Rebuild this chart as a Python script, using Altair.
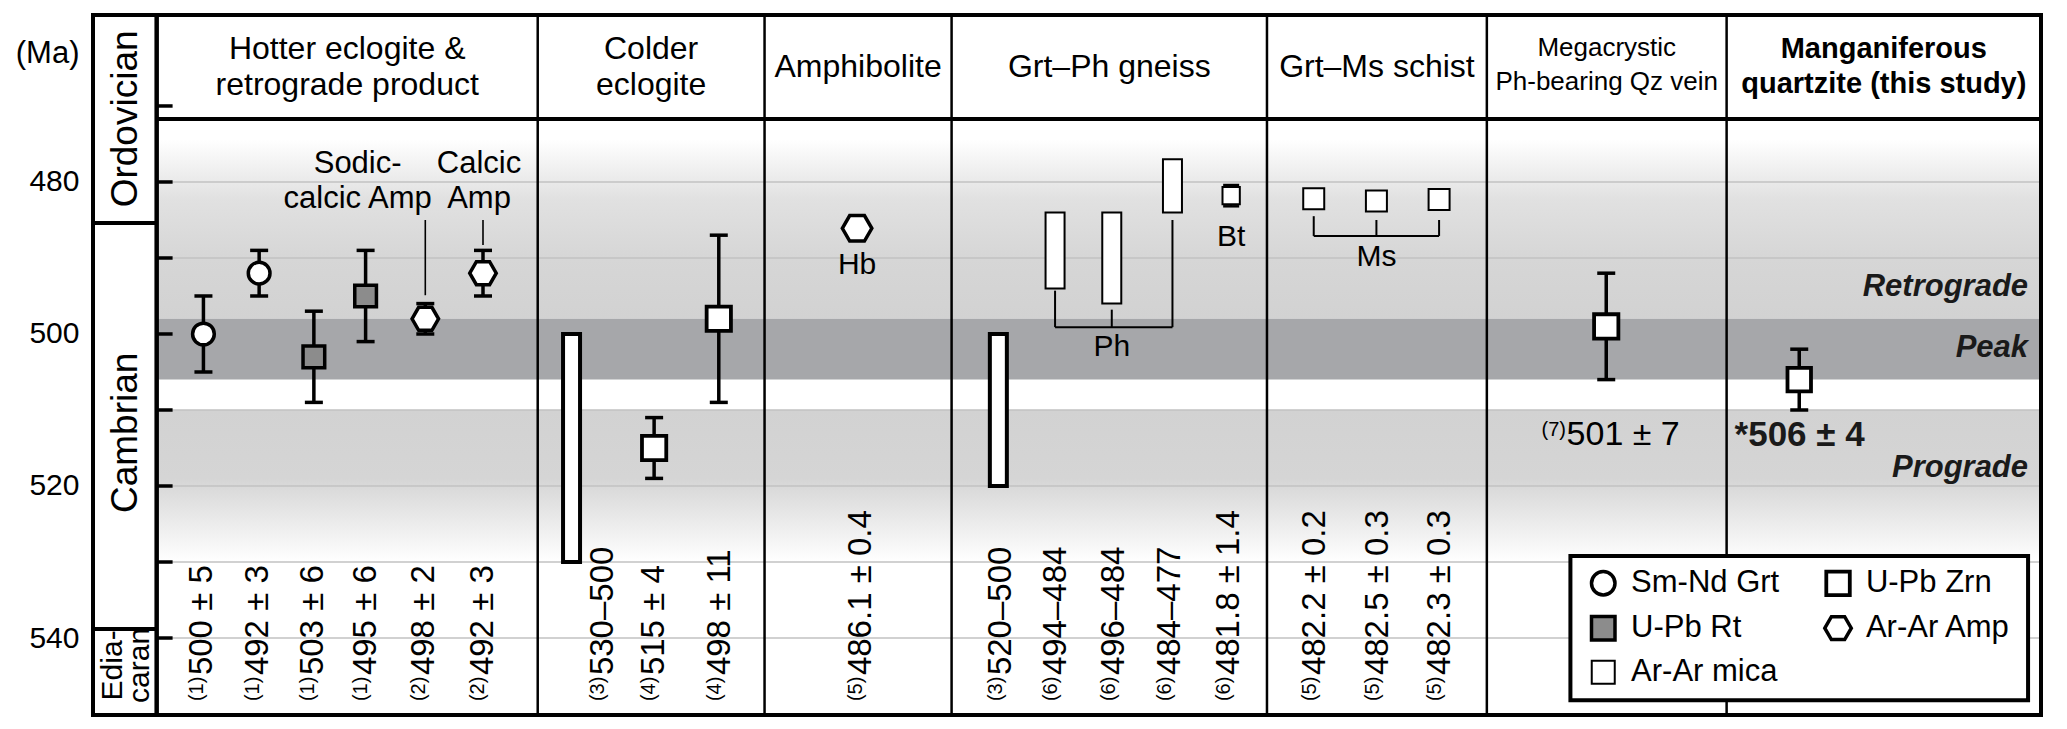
import altair as alt
import pandas as pd

FONT = "Liberation Sans"

# ------------------------------------------------------------------ data
COLUMN_TITLES = [
    "Hotter eclogite &\nretrograde product",
    "Colder\neclogite",
    "Amphibolite",
    "Grt–Ph gneiss",
    "Grt–Ms schist",
    "Megacrystic\nPh-bearing Qz vein",
    "Manganiferous\nquartzite (this study)",
]
PERIOD_NAMES = ["Ordovician", "Cambrian", "Edia-\ncaran"]
PERIOD_BOUNDARIES = [485.4, 538.8]
Y_TICKS = [470, 480, 490, 500, 510, 520, 530, 540]
Y_LABELS = [480, 500, 520, 540]
GRID_AGES = [480, 490, 510, 520, 530, 540]

BAND_NAMES = ["Retrograde", "Peak", "Prograde"]
BAND_OLD = [498, 506, 530]
BAND_YOUNG = [None, 498, 510]  # retrograde band runs up to the top of the panel

SAMPLE_METHOD = [
    "Sm-Nd Grt", "Sm-Nd Grt", "U-Pb Rt", "U-Pb Rt", "Ar-Ar Amp", "Ar-Ar Amp",
    "U-Pb Zrn range", "U-Pb Zrn", "U-Pb Zrn",
    "Ar-Ar Amp",
    "U-Pb Zrn range", "Ar-Ar mica range", "Ar-Ar mica range", "Ar-Ar mica range", "Ar-Ar mica",
    "Ar-Ar mica", "Ar-Ar mica", "Ar-Ar mica",
    "U-Pb Zrn",
    "U-Pb Zrn",
]
SAMPLE_AGE = [500, 492, 503, 495, 498, 492, None, 515, 498, 486.1,
              None, None, None, None, 481.8, 482.2, 482.5, 482.3, 499, 506]
SAMPLE_ERR = [5, 3, 6, 6, 2, 3, None, 4, 11, 0.4,
              None, None, None, None, 1.4, 0.2, 0.3, 0.3, 7, 4]
RANGE_OLD = [None] * 6 + [530, None, None, None, 520, 494, 496, 484] + [None] * 6
RANGE_YOUNG = [None] * 6 + [500, None, None, None, 500, 484, 484, 477] + [None] * 6
SAMPLE_REF = ["(1)", "(1)", "(1)", "(1)", "(2)", "(2)", "(3)", "(4)", "(4)", "(5)",
              "(3)", "(6)", "(6)", "(6)", "(6)", "(5)", "(5)", "(5)", "(7)", "*"]
SAMPLE_TEXT = ["500 ± 5", "492 ± 3", "503 ± 6", "495 ± 6", "498 ± 2", "492 ± 3",
               "530–500", "515 ± 4", "498 ± 11", "486.1 ± 0.4",
               "520–500", "494–484", "496–484", "484–477", "481.8 ± 1.4",
               "482.2 ± 0.2", "482.5 ± 0.3", "482.3 ± 0.3", "501 ± 7", "506 ± 4"]

NOTE_TEXT = ["Hb", "Bt", "Ph", "Ms", "Sodic-\ncalcic Amp", "Calcic\nAmp"]
LEGEND_METHODS = ["Sm-Nd Grt", "U-Pb Rt", "Ar-Ar mica", "U-Pb Zrn", "Ar-Ar Amp"]

# ------------------------------------------------------------------ layout (pixels / plot units)
W, H = 1958, 700
AGE_TOP, AGE_BOTTOM = 458.03, 550.13
AGE_HEADER = 471.7
COL_EDGES = [64, 447, 675, 863, 1180, 1401, 1642, 1958]
COL_CENTERS = [(a + b) / 2 for a, b in zip(COL_EDGES[:-1], COL_EDGES[1:])]
HEADER_MID = (AGE_TOP + AGE_HEADER) / 2
TICK_LEN = 16

SLOT_X = [111, 167, 222, 274, 334, 392, 481, 564, 629, 768,
          910, 967, 1024, 1085, 1144, 1227, 1290, 1353, 1521, 1715]
LABEL_X = [110, 166, 221, 274, 333, 392, 513, 564, 630, 772,
           913, 968, 1026, 1083, 1142, 1228, 1292, 1354, 1456, 1650]
VALUE_BASE_AGE = 548.3
HLABEL_AGE = 513.3

NOTE_X = [768, 1144, 1024, 1290, 266, 388]
NOTE_AGE = [490.9, 487.2, 501.7, 489.9, 479.9, 479.9]

SEG_X = [967, 1024, 1085, 967, 1227, 1290, 1353, 1227, 334, 392]
SEG_X2 = [967, 1024, 1085, 1085, 1227, 1290, 1353, 1353, 334, 392]
SEG_Y = [494.3, 496.8, 485.0, 499.1, 484.5, 485.0, 485.0, 487.1, 485.0, 485.0]
SEG_Y2 = [499.1, 499.1, 499.1, 499.1, 487.1, 487.1, 487.1, 487.1, 494.9, 488.3]
SEG_W = [2, 2, 2, 2, 2, 2, 2, 2, 1.6, 1.6]

BAND_LABEL_AGE = [493.8, 501.8, 517.6]
BAND_LABEL_X = 1945

PERIOD_LABEL_X = [33, 33, 34]
PERIOD_LABEL_AGE = [471.7, 513.0, 543.6]
PERIOD_FS = [37, 37, 30]

LEG_BOX = dict(x0=1485, x1=1945, y0=529.2, y1=548.2)
LEG_X = [1518, 1518, 1518, 1754, 1754]
LEG_AGE = [532.8, 538.7, 544.5, 532.8, 538.7]
LEG_TEXT_DX = 28
LEG_SIZE = [552, 552, 529, 552, 702]

HEX = "M-1,0L-0.5,-0.866L0.5,-0.866L1,0L0.5,0.866L-0.5,0.866Z"
STYLE = {
    "Sm-Nd Grt": dict(shape="circle", fill="white", sw=3.5, size=471),
    "U-Pb Rt": dict(shape="square", fill="#8c8c8c", sw=3.5, size=470),
    "U-Pb Zrn": dict(shape="square", fill="white", sw=3.8, size=590),
    "Ar-Ar Amp": dict(shape=HEX, fill="white", sw=3.5, size=702),
    "Ar-Ar mica": dict(shape="square", fill="white", sw=2, size=441),
}
SIZE_OVERRIDE = {9: 870, 14: 300, 19: 552}

# ------------------------------------------------------------------ helpers
XS = alt.Scale(domain=[0, W], nice=False, zero=False)
YS = alt.Scale(domain=[AGE_TOP, AGE_BOTTOM], reverse=True, nice=False, zero=False)

YAXIS = alt.Axis(
    values=Y_LABELS, title="(Ma)", titleAngle=0, titleAlign="right", titleBaseline="middle",
    titleX=-9, titleY=38, titleFontSize=31, titleFontWeight="normal", titleColor="black",
    titleFont=FONT, labelFont=FONT, labelFontSize=30, labelColor="black", labelPadding=9,
    ticks=False, tickSize=0, domain=False, grid=False,
)


def X(f):
    return alt.X(f"{f}:Q", scale=XS, axis=None)


def Y(f):
    return alt.Y(f"{f}:Q", scale=YS, axis=YAXIS)


def X2(f):
    return alt.X2(f"{f}:Q")


def Y2(f):
    return alt.Y2(f"{f}:Q")


layers = []

# ------------------------------------------------------------------ background bands
bands = pd.DataFrame({
    "name": BAND_NAMES,
    "old": BAND_OLD,
    "young": [AGE_HEADER if v is None else v for v in BAND_YOUNG],
    "x0": COL_EDGES[0],
    "x1": COL_EDGES[-1],
})
retro_grad = alt.Gradient(
    gradient="linear", x1=0, y1=0, x2=0, y2=1,
    stops=[alt.GradientStop(offset=0, color="#ffffff"),
           alt.GradientStop(offset=0.1, color="#ffffff"),
           alt.GradientStop(offset=0.4, color="#e1e1e1"),
           alt.GradientStop(offset=0.7, color="#d6d6d6"),
           alt.GradientStop(offset=1, color="#d2d2d2")])
pro_grad = alt.Gradient(
    gradient="linear", x1=0, y1=0, x2=0, y2=1,
    stops=[alt.GradientStop(offset=0, color="#d2d2d2"),
           alt.GradientStop(offset=0.45, color="#d5d5d5"),
           alt.GradientStop(offset=1, color="#ffffff")])

layers.append(alt.Chart(bands[bands.name == "Retrograde"]).mark_rect(fill=retro_grad).encode(
    x=X("x0"), x2=X2("x1"), y=Y("young"), y2=Y2("old")))
layers.append(alt.Chart(bands[bands.name == "Peak"]).mark_rect(fill="#a6a7aa").encode(
    x=X("x0"), x2=X2("x1"), y=Y("young"), y2=Y2("old")))
layers.append(alt.Chart(bands[bands.name == "Prograde"]).mark_rect(fill=pro_grad).encode(
    x=X("x0"), x2=X2("x1"), y=Y("young"), y2=Y2("old")))

# gridlines
grid = pd.DataFrame({"age": GRID_AGES, "x0": COL_EDGES[0], "x1": COL_EDGES[-1]})
layers.append(alt.Chart(grid).mark_rule(color="#c2c2c2", strokeWidth=1.5).encode(
    x=X("x0"), x2=X2("x1"), y=Y("age")))

# brackets and leader lines
segs = pd.DataFrame({"x": SEG_X, "x2": SEG_X2, "y": SEG_Y, "y2": SEG_Y2, "w": SEG_W})
layers.append(alt.Chart(segs).mark_rule(color="black").encode(
    x=X("x"), x2=X2("x2"), y=Y("y"), y2=Y2("y2"),
    strokeWidth=alt.StrokeWidth("w:Q", scale=None)))

# column separators, header line, period column
seps = pd.DataFrame({"x": COL_EDGES[1:-1], "top": AGE_TOP, "bottom": AGE_BOTTOM})
layers.append(alt.Chart(seps).mark_rule(color="black", strokeWidth=2.5).encode(
    x=X("x"), y=Y("top"), y2=Y2("bottom")))
pcol = pd.DataFrame({"x": [COL_EDGES[0]], "top": AGE_TOP, "bottom": AGE_BOTTOM})
layers.append(alt.Chart(pcol).mark_rule(color="black", strokeWidth=4.5).encode(
    x=X("x"), y=Y("top"), y2=Y2("bottom")))
hline = pd.DataFrame({"age": [AGE_HEADER], "x0": COL_EDGES[0], "x1": COL_EDGES[-1]})
layers.append(alt.Chart(hline).mark_rule(color="black", strokeWidth=4).encode(
    x=X("x0"), x2=X2("x1"), y=Y("age")))
pb = pd.DataFrame({"age": PERIOD_BOUNDARIES, "x0": 0, "x1": COL_EDGES[0]})
layers.append(alt.Chart(pb).mark_rule(color="black", strokeWidth=4).encode(
    x=X("x0"), x2=X2("x1"), y=Y("age")))
ticks = pd.DataFrame({"age": Y_TICKS, "x0": COL_EDGES[0], "x1": COL_EDGES[0] + TICK_LEN})
layers.append(alt.Chart(ticks).mark_rule(color="black", strokeWidth=3.5).encode(
    x=X("x0"), x2=X2("x1"), y=Y("age")))

# ------------------------------------------------------------------ samples
df = pd.DataFrame({
    "method": SAMPLE_METHOD, "age": SAMPLE_AGE, "err": SAMPLE_ERR,
    "old": RANGE_OLD, "young": RANGE_YOUNG, "ref": SAMPLE_REF, "text": SAMPLE_TEXT,
    "x": SLOT_X, "lx": LABEL_X,
})
df["lo"] = df["age"] - df["err"]
df["hi"] = df["age"] + df["err"]
df["sz"] = [SIZE_OVERRIDE.get(i, STYLE.get(m, {"size": 0})["size"]) for i, m in enumerate(df.method)]
df["base"] = VALUE_BASE_AGE
df["hy"] = HLABEL_AGE

# error bars
eb = df[(df.err >= 1) & (df.method != "Ar-Ar mica")]
layers.append(alt.Chart(eb).mark_rule(color="black", strokeWidth=3.5).encode(
    x=X("x"), y=Y("lo"), y2=Y2("hi")))
for f in ["lo", "hi"]:
    layers.append(alt.Chart(eb).mark_tick(orient="horizontal", size=18, thickness=3.5,
                                          color="black", opacity=1).encode(x=X("x"), y=Y(f)))
ebt = df[(df.err >= 1) & (df.method == "Ar-Ar mica")]
layers.append(alt.Chart(ebt).mark_rule(color="black", strokeWidth=2).encode(
    x=X("x"), y=Y("lo"), y2=Y2("hi")))
for f in ["lo", "hi"]:
    layers.append(alt.Chart(ebt).mark_tick(orient="horizontal", size=16, thickness=2.5,
                                           color="black", opacity=1).encode(x=X("x"), y=Y(f)))

# age ranges
thick = df[df.method == "U-Pb Zrn range"]
layers.append(alt.Chart(thick).mark_bar(orient="vertical", size=17, fill="white", stroke="black",
                                        strokeWidth=4).encode(x=X("x"), y=Y("old"), y2=Y2("young")))
thin = df[df.method == "Ar-Ar mica range"]
layers.append(alt.Chart(thin).mark_bar(orient="vertical", size=19, fill="white", stroke="black",
                                       strokeWidth=2).encode(x=X("x"), y=Y("old"), y2=Y2("young")))


def symbol_layer(data, method, yfield):
    st = STYLE[method]
    return alt.Chart(data).mark_point(
        shape=st["shape"], filled=True, fill=st["fill"], stroke="black",
        strokeWidth=st["sw"], opacity=1,
    ).encode(x=X("x"), y=Y(yfield), size=alt.Size("sz:Q", scale=None))


pts = df[df.age.notna()]
for m in STYLE:
    sub = pts[pts.method == m]
    if len(sub):
        layers.append(symbol_layer(sub, m, "age"))

# ------------------------------------------------------------------ texts
# (multi-line text: Vega puts the first line on the anchor, so shift up by half the extra lines)
hdr = pd.DataFrame({"x": COL_CENTERS, "y": HEADER_MID, "t": COLUMN_TITLES})
hdr["n"] = hdr.t.str.count("\n") + 1
layers.append(alt.Chart(hdr[(hdr.n == 1)]).mark_text(
    font=FONT, fontSize=32, align="center", baseline="middle",
    color="black").encode(x=X("x"), y=Y("y"), text="t:N"))
layers.append(alt.Chart(hdr.iloc[:2]).mark_text(
    font=FONT, fontSize=32, lineHeight=36, lineBreak="\n", align="center", baseline="middle",
    dy=-18, color="black").encode(x=X("x"), y=Y("y"), text="t:N"))
layers.append(alt.Chart(hdr.iloc[5:6]).mark_text(
    font=FONT, fontSize=26, lineHeight=34, lineBreak="\n", align="center",
    baseline="middle", dy=-19, color="black").encode(x=X("x"), y=Y("y"), text="t:N"))
layers.append(alt.Chart(hdr.iloc[6:7]).mark_text(
    font=FONT, fontSize=29, fontWeight="bold", lineHeight=35, lineBreak="\n", align="center",
    baseline="middle", dy=-18, color="black").encode(x=X("x"), y=Y("y"), text="t:N"))

notes = pd.DataFrame({"x": NOTE_X, "y": NOTE_AGE, "t": NOTE_TEXT})
notes["n"] = notes.t.str.count("\n") + 1
layers.append(alt.Chart(notes[notes.n == 1]).mark_text(
    font=FONT, fontSize=30, align="center", baseline="middle",
    color="black").encode(x=X("x"), y=Y("y"), text="t:N"))
layers.append(alt.Chart(notes[notes.n == 2]).mark_text(
    font=FONT, fontSize=31, lineHeight=35, lineBreak="\n", align="center", baseline="middle",
    dy=-17.5, color="black").encode(x=X("x"), y=Y("y"), text="t:N"))

bl = pd.DataFrame({"x": BAND_LABEL_X, "y": BAND_LABEL_AGE, "t": BAND_NAMES})
layers.append(alt.Chart(bl).mark_text(
    font=FONT, fontSize=31, fontWeight="bold", fontStyle="italic", align="right",
    baseline="middle", color="#1a1a1a").encode(x=X("x"), y=Y("y"), text="t:N"))

# rotated value labels
vl = df.iloc[:18]
layers.append(alt.Chart(vl).mark_text(
    font=FONT, fontSize=20, angle=270, align="left", baseline="middle", dy=-5,
    color="black").encode(x=X("lx"), y=Y("base"), text="ref:N"))
layers.append(alt.Chart(vl).mark_text(
    font=FONT, fontSize=33, angle=270, align="left", baseline="middle", dx=26,
    color="black").encode(x=X("lx"), y=Y("base"), text="text:N"))

# horizontal value labels
h1 = df.iloc[18:19]
layers.append(alt.Chart(h1).mark_text(
    font=FONT, fontSize=20, align="left", baseline="middle", dy=-5,
    color="black").encode(x=X("lx"), y=Y("hy"), text="ref:N"))
layers.append(alt.Chart(h1).mark_text(
    font=FONT, fontSize=34, align="left", baseline="middle", dx=25,
    color="black").encode(x=X("lx"), y=Y("hy"), text="text:N"))
h2 = df.iloc[19:20].assign(full=lambda d: d["ref"] + d["text"])
layers.append(alt.Chart(h2).mark_text(
    font=FONT, fontSize=35, fontWeight="bold", align="left", baseline="middle",
    color="#1a1a1a").encode(x=X("lx"), y=Y("hy"), text="full:N"))

# period labels
per = pd.DataFrame({"x": PERIOD_LABEL_X, "y": PERIOD_LABEL_AGE, "t": PERIOD_NAMES, "fs": PERIOD_FS})
layers.append(alt.Chart(per.iloc[:2]).mark_text(
    font=FONT, angle=270, align="center", baseline="middle",
    color="black").encode(x=X("x"), y=Y("y"), text="t:N", size=alt.Size("fs:Q", scale=None)))
layers.append(alt.Chart(per.iloc[2:]).mark_text(
    font=FONT, angle=270, lineHeight=27, lineBreak="\n", align="center", baseline="middle",
    dy=-13.5, color="black").encode(x=X("x"), y=Y("y"), text="t:N",
                                    size=alt.Size("fs:Q", scale=None)))

# ------------------------------------------------------------------ legend
lb = pd.DataFrame([LEG_BOX])
layers.append(alt.Chart(lb).mark_rect(fill="white", stroke="black", strokeWidth=4).encode(
    x=X("x0"), x2=X2("x1"), y=Y("y0"), y2=Y2("y1")))
leg = pd.DataFrame({"method": LEGEND_METHODS, "x": LEG_X, "age": LEG_AGE, "sz": LEG_SIZE})
leg["tx"] = leg["x"] + LEG_TEXT_DX
for m in LEGEND_METHODS:
    layers.append(symbol_layer(leg[leg.method == m], m, "age"))
layers.append(alt.Chart(leg).mark_text(
    font=FONT, fontSize=31, align="left", baseline="middle", color="black").encode(
    x=X("tx"), y=Y("age"), text="method:N"))

# ------------------------------------------------------------------ frame
frame = pd.DataFrame({"x0": [0], "x1": [W], "y0": [AGE_TOP], "y1": [AGE_BOTTOM]})
layers.append(alt.Chart(frame).mark_rect(fill="transparent", stroke="black", strokeWidth=4).encode(
    x=X("x0"), x2=X2("x1"), y=Y("y0"), y2=Y2("y1")))

chart = alt.layer(*layers).properties(
    width=W, height=H,
    autosize=alt.AutoSizeParams(type="none"),
    padding={"left": 80, "top": 7, "right": 13, "bottom": 6},
    background="white",
).configure_view(stroke=None)

chart.save("out.html", embed_options={"renderer": "svg", "actions": False})
